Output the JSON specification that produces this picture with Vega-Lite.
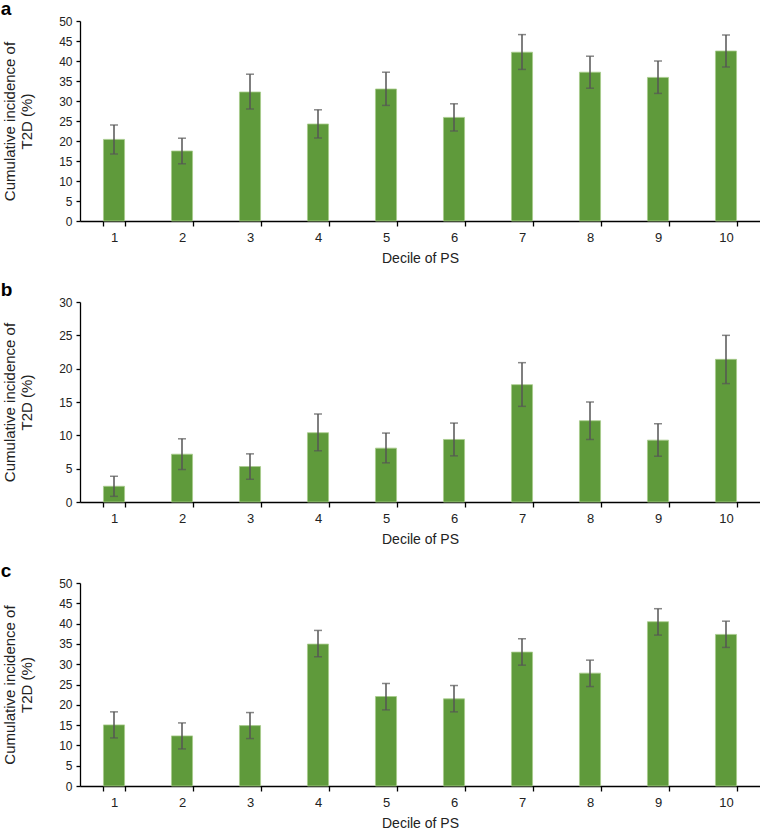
{
  "$schema": "https://vega.github.io/schema/vega-lite/v6.json",
  "padding": {"left": 0, "top": 0, "right": 0, "bottom": 0},
  "background": "white",
  "spacing": 16,
  "config": {
    "view": {"stroke": null},
    "font": "Liberation Sans",
    "title": {"anchor": "start", "frame": "bounds", "fontSize": 19, "fontWeight": "bold", "color": "#000", "font": "Liberation Sans", "offset": -4, "dx": -2},
    "axis": {"labelFont": "Liberation Sans", "titleFont": "Liberation Sans", "labelColor": "#222", "titleColor": "#222", "titleFontWeight": "normal", "domainColor": "#000", "tickColor": "#000", "grid": false, "domainWidth": 1.3, "tickWidth": 1.3},
    "axisX": {"labelFontSize": 13, "titleFontSize": 14, "labelAngle": 0, "tickBand": "extent", "tickSize": 5, "labelPadding": 5, "titlePadding": 7},
    "axisY": {"labelFontSize": 12, "titleFontSize": 15, "tickSize": 4, "labelPadding": 4, "titlePadding": 24, "titleLineHeight": 17, "labelOverlap": false}
  },
  "datasets": {
    "a": [
      {"decile": "1", "value": 20.4, "lo": 16.75, "hi": 24.0},
      {"decile": "2", "value": 17.5, "lo": 14.3, "hi": 20.7},
      {"decile": "3", "value": 32.25, "lo": 28.0, "hi": 36.7},
      {"decile": "4", "value": 24.25, "lo": 20.75, "hi": 27.8},
      {"decile": "5", "value": 33.0, "lo": 28.9, "hi": 37.2},
      {"decile": "6", "value": 25.9, "lo": 22.5, "hi": 29.3},
      {"decile": "7", "value": 42.2, "lo": 37.9, "hi": 46.6},
      {"decile": "8", "value": 37.2, "lo": 33.2, "hi": 41.2},
      {"decile": "9", "value": 35.9, "lo": 31.9, "hi": 40.0},
      {"decile": "10", "value": 42.5, "lo": 38.5, "hi": 46.5}
    ],
    "b": [
      {"decile": "1", "value": 2.36, "lo": 0.85, "hi": 3.86},
      {"decile": "2", "value": 7.17, "lo": 4.87, "hi": 9.48},
      {"decile": "3", "value": 5.32, "lo": 3.41, "hi": 7.22},
      {"decile": "4", "value": 10.39, "lo": 7.68, "hi": 13.2},
      {"decile": "5", "value": 8.08, "lo": 5.87, "hi": 10.34},
      {"decile": "6", "value": 9.38, "lo": 6.92, "hi": 11.84},
      {"decile": "7", "value": 17.6, "lo": 14.35, "hi": 20.9},
      {"decile": "8", "value": 12.19, "lo": 9.38, "hi": 15.0},
      {"decile": "9", "value": 9.28, "lo": 6.87, "hi": 11.74},
      {"decile": "10", "value": 21.4, "lo": 17.76, "hi": 25.0}
    ],
    "c": [
      {"decile": "1", "value": 15.05, "lo": 11.84, "hi": 18.26},
      {"decile": "2", "value": 12.34, "lo": 9.13, "hi": 15.54},
      {"decile": "3", "value": 14.88, "lo": 11.68, "hi": 18.09},
      {"decile": "4", "value": 34.95, "lo": 31.83, "hi": 38.32},
      {"decile": "5", "value": 22.04, "lo": 18.75, "hi": 25.25},
      {"decile": "6", "value": 21.46, "lo": 18.26, "hi": 24.75},
      {"decile": "7", "value": 32.98, "lo": 29.77, "hi": 36.27},
      {"decile": "8", "value": 27.8, "lo": 24.5, "hi": 31.0},
      {"decile": "9", "value": 40.46, "lo": 37.17, "hi": 43.67},
      {"decile": "10", "value": 37.34, "lo": 34.13, "hi": 40.6}
    ]
  },
  "vconcat": [
    {
      "title": "a",
      "width": 680, "height": 200,
      "data": {"name": "a"},
      "encoding": {
        "x": {"field": "decile", "type": "ordinal", "sort": null, "title": "Decile of PS", "scale": {"paddingInner": 0.69, "paddingOuter": 0.345}}
      },
      "layer": [
        {"mark": {"type": "bar", "color": "#5f9a3b", "stroke": "#a8cc8c", "strokeWidth": 0.8},
         "encoding": {"y": {"field": "value", "type": "quantitative", "title": ["Cumulative incidence of", "T2D (%)"], "scale": {"domain": [0, 50]}, "axis": {"values": [0,5,10,15,20,25,30,35,40,45,50]}}}},
        {"mark": {"type": "rule", "color": "#555", "strokeWidth": 1.5},
         "encoding": {"y": {"field": "lo", "type": "quantitative", "title": ["Cumulative incidence of", "T2D (%)"], "scale": {"domain": [0, 50]}, "axis": {"values": [0,5,10,15,20,25,30,35,40,45,50]}}, "y2": {"field": "hi"}}},
        {"mark": {"type": "tick", "color": "#555", "thickness": 1.5, "size": 8},
         "encoding": {"y": {"field": "lo", "type": "quantitative", "title": ["Cumulative incidence of", "T2D (%)"], "scale": {"domain": [0, 50]}, "axis": {"values": [0,5,10,15,20,25,30,35,40,45,50]}}}},
        {"mark": {"type": "tick", "color": "#555", "thickness": 1.5, "size": 8},
         "encoding": {"y": {"field": "hi", "type": "quantitative", "title": ["Cumulative incidence of", "T2D (%)"], "scale": {"domain": [0, 50]}, "axis": {"values": [0,5,10,15,20,25,30,35,40,45,50]}}}}
      ]
    },
    {
      "title": "b",
      "width": 680, "height": 200,
      "data": {"name": "b"},
      "encoding": {
        "x": {"field": "decile", "type": "ordinal", "sort": null, "title": "Decile of PS", "scale": {"paddingInner": 0.69, "paddingOuter": 0.345}}
      },
      "layer": [
        {"mark": {"type": "bar", "color": "#5f9a3b", "stroke": "#a8cc8c", "strokeWidth": 0.8},
         "encoding": {"y": {"field": "value", "type": "quantitative", "title": ["Cumulative incidence of", "T2D (%)"], "scale": {"domain": [0, 30]}, "axis": {"values": [0,5,10,15,20,25,30]}}}},
        {"mark": {"type": "rule", "color": "#555", "strokeWidth": 1.5},
         "encoding": {"y": {"field": "lo", "type": "quantitative", "title": ["Cumulative incidence of", "T2D (%)"], "scale": {"domain": [0, 30]}, "axis": {"values": [0,5,10,15,20,25,30]}}, "y2": {"field": "hi"}}},
        {"mark": {"type": "tick", "color": "#555", "thickness": 1.5, "size": 8},
         "encoding": {"y": {"field": "lo", "type": "quantitative", "title": ["Cumulative incidence of", "T2D (%)"], "scale": {"domain": [0, 30]}, "axis": {"values": [0,5,10,15,20,25,30]}}}},
        {"mark": {"type": "tick", "color": "#555", "thickness": 1.5, "size": 8},
         "encoding": {"y": {"field": "hi", "type": "quantitative", "title": ["Cumulative incidence of", "T2D (%)"], "scale": {"domain": [0, 30]}, "axis": {"values": [0,5,10,15,20,25,30]}}}}
      ]
    },
    {
      "title": "c",
      "width": 680, "height": 203,
      "data": {"name": "c"},
      "encoding": {
        "x": {"field": "decile", "type": "ordinal", "sort": null, "title": "Decile of PS", "scale": {"paddingInner": 0.69, "paddingOuter": 0.345}}
      },
      "layer": [
        {"mark": {"type": "bar", "color": "#5f9a3b", "stroke": "#a8cc8c", "strokeWidth": 0.8},
         "encoding": {"y": {"field": "value", "type": "quantitative", "title": ["Cumulative incidence of", "T2D (%)"], "scale": {"domain": [0, 50]}, "axis": {"values": [0,5,10,15,20,25,30,35,40,45,50]}}}},
        {"mark": {"type": "rule", "color": "#555", "strokeWidth": 1.5},
         "encoding": {"y": {"field": "lo", "type": "quantitative", "title": ["Cumulative incidence of", "T2D (%)"], "scale": {"domain": [0, 50]}, "axis": {"values": [0,5,10,15,20,25,30,35,40,45,50]}}, "y2": {"field": "hi"}}},
        {"mark": {"type": "tick", "color": "#555", "thickness": 1.5, "size": 8},
         "encoding": {"y": {"field": "lo", "type": "quantitative", "title": ["Cumulative incidence of", "T2D (%)"], "scale": {"domain": [0, 50]}, "axis": {"values": [0,5,10,15,20,25,30,35,40,45,50]}}}},
        {"mark": {"type": "tick", "color": "#555", "thickness": 1.5, "size": 8},
         "encoding": {"y": {"field": "hi", "type": "quantitative", "title": ["Cumulative incidence of", "T2D (%)"], "scale": {"domain": [0, 50]}, "axis": {"values": [0,5,10,15,20,25,30,35,40,45,50]}}}}
      ]
    }
  ]
}
